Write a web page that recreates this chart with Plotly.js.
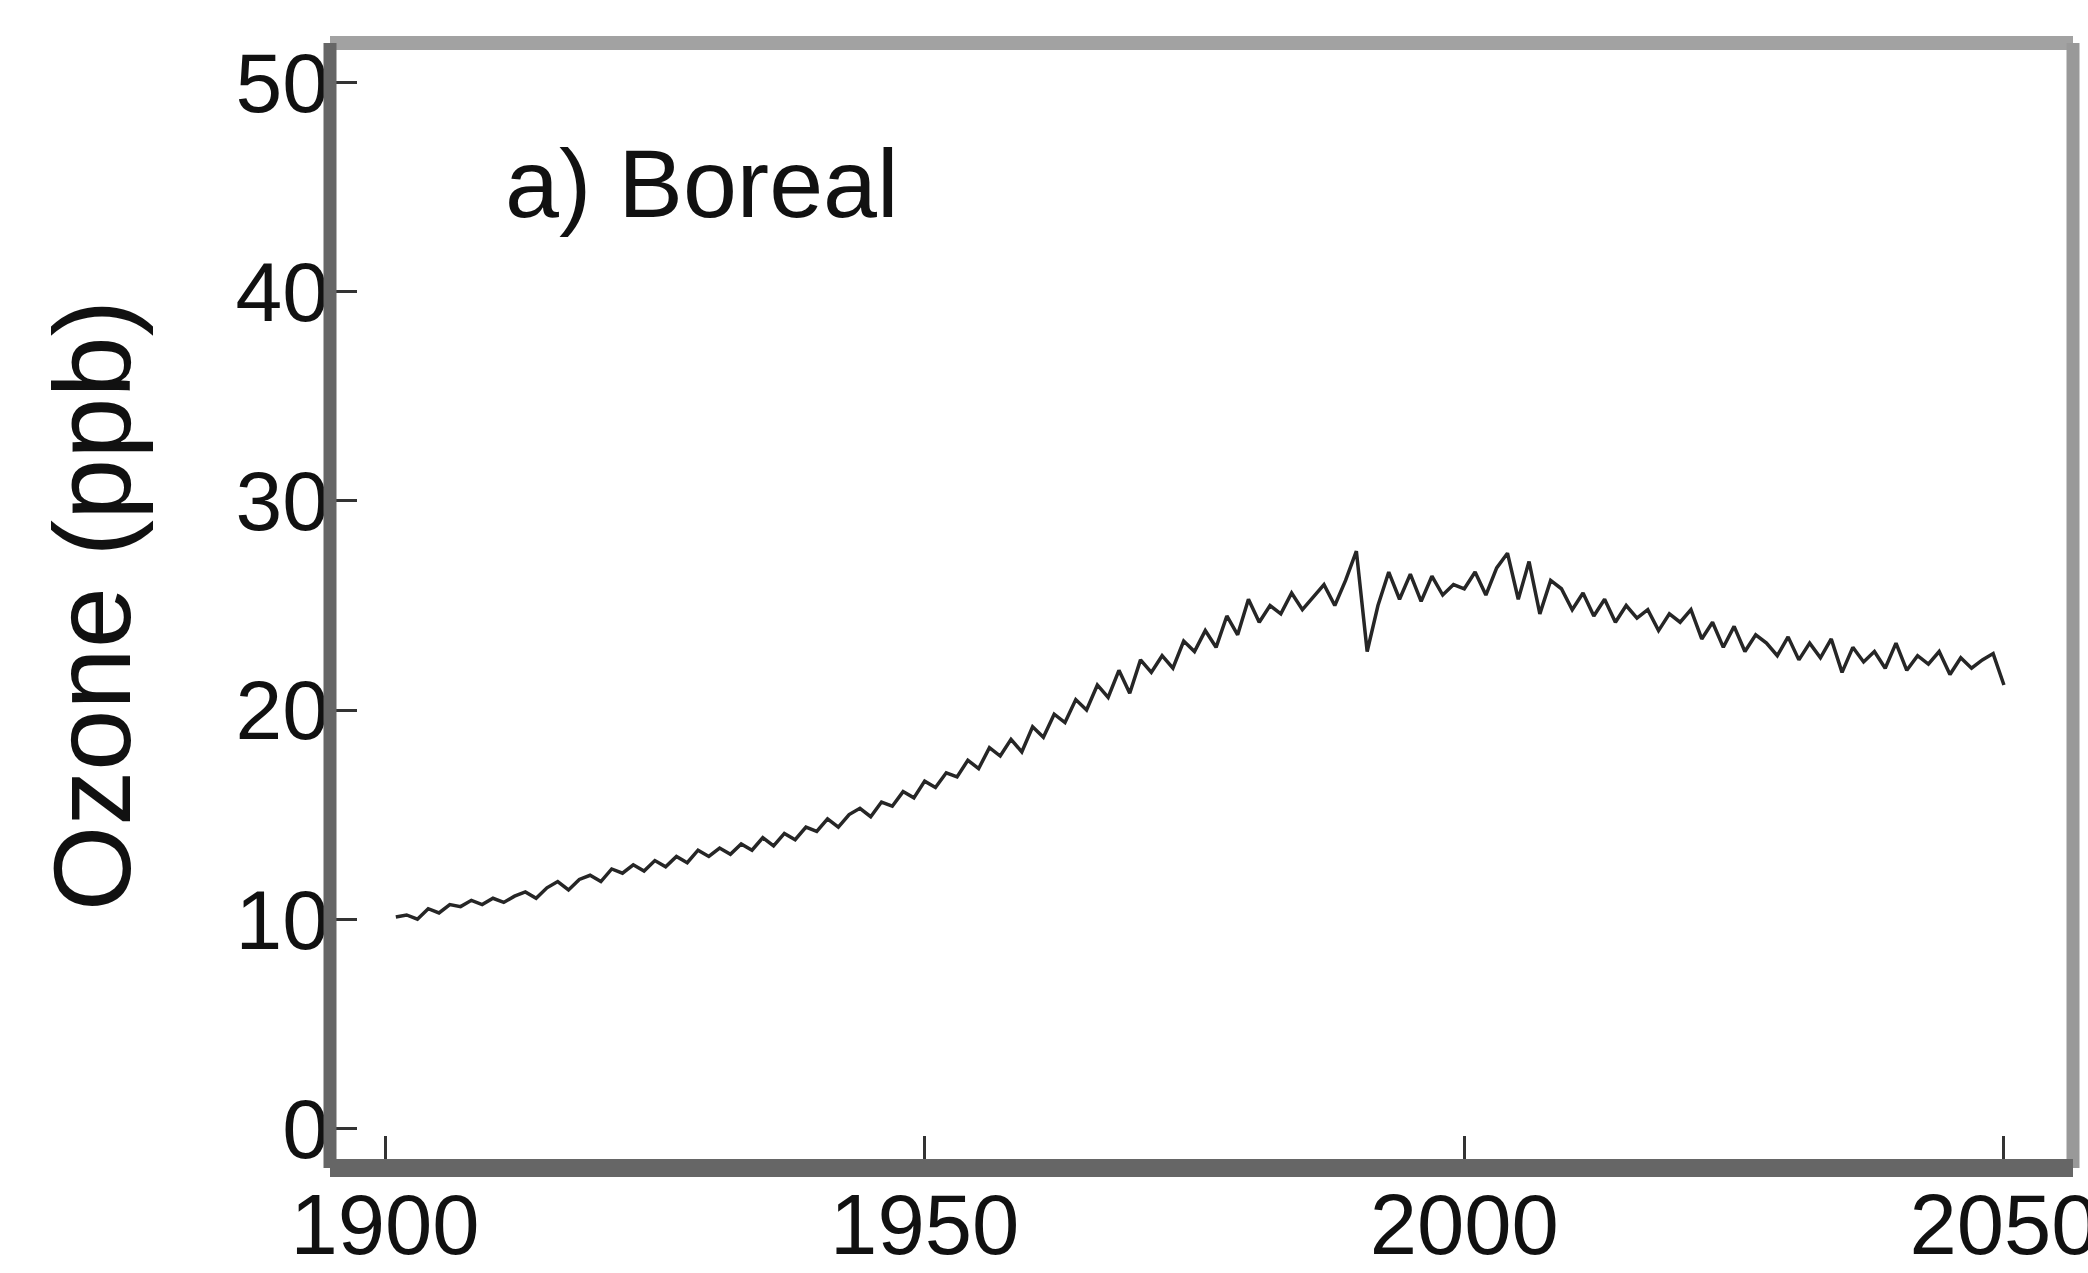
<!DOCTYPE html>
<html>
<head>
<meta charset="utf-8">
<script src="https://cdn.plot.ly/plotly-3.0.1.min.js"></script>
<style>html,body{margin:0;padding:0;background:#fff;}#chart{width:2088px;height:1273px;}</style>
</head>
<body>
<div id="chart"></div>
<script>
// Annual boreal ozone (ppb), 1901-2050
const startYear = 1901;
const ozone = [
  10.1, 10.2, 10.0, 10.5, 10.3, 10.7, 10.6, 10.9, 10.7, 11.0,
  10.8, 11.1, 11.3, 11.0, 11.5, 11.8, 11.4, 11.9, 12.1, 11.8,
  12.4, 12.2, 12.6, 12.3, 12.8, 12.5, 13.0, 12.7, 13.3, 13.0,
  13.4, 13.1, 13.6, 13.3, 13.9, 13.5, 14.1, 13.8, 14.4, 14.2,
  14.8, 14.4, 15.0, 15.3, 14.9, 15.6, 15.4, 16.1, 15.8, 16.6,
  16.3, 17.0, 16.8, 17.6, 17.2, 18.2, 17.8, 18.6, 18.0, 19.2,
  18.7, 19.8, 19.4, 20.5, 20.0, 21.2, 20.6, 21.9, 20.8, 22.4,
  21.8, 22.6, 22.0, 23.3, 22.8, 23.8, 23.0, 24.5, 23.6, 25.3,
  24.2, 25.0, 24.6, 25.6, 24.8, 25.4, 26.0, 25.0, 26.2, 27.6,
  22.8, 25.0, 26.6, 25.3, 26.5, 25.2, 26.4, 25.5, 26.0, 25.8,
  26.6, 25.5, 26.8, 27.5, 25.3, 27.1, 24.6, 26.2, 25.8, 24.8,
  25.6, 24.5, 25.3, 24.2, 25.0, 24.4, 24.8, 23.8, 24.6, 24.2,
  24.8, 23.4, 24.2, 23.0, 24.0, 22.8, 23.6, 23.2, 22.6, 23.5,
  22.4, 23.2, 22.5, 23.4, 21.8, 23.0, 22.3, 22.8, 22.0, 23.2,
  21.9, 22.6, 22.2, 22.8, 21.7, 22.5, 22.0, 22.4, 22.7, 21.2
];
const years = ozone.map((v, i) => startYear + i);
const xTicks = [1900, 1950, 2000, 2050];
const yTicks = [0, 10, 20, 30, 40, 50];
const panelLabel = "a) Boreal";
const yTitle = "Ozone (ppb)";

const font = "Liberation Sans, Arial, Helvetica, sans-serif";

const trace = {
  x: years, y: ozone, type: "scatter", mode: "lines",
  line: {color: "#262626", width: 3.5},
  hoverinfo: "skip"
};

const layout = {
  width: 2088, height: 1273,
  margin: {l: 330, r: 15, t: 43, b: 105, pad: 0},
  paper_bgcolor: "#ffffff", plot_bgcolor: "#ffffff",
  showlegend: false,
  font: {family: font, color: "#111"},
  xaxis: {
    range: [1894.9, 2056.4], tickvals: xTicks, ticktext: xTicks.map(String),
    ticks: "inside", ticklen: 32, tickwidth: 3, tickcolor: "#333",
    showgrid: false, zeroline: false, showline: false,
    tickfont: {size: 85, family: font, color: "#111"},
    ticklabelstandoff: 0, ticklabeloverflow: "allow"
  },
  yaxis: {
    range: [-1.9, 51.9], tickvals: yTicks, ticktext: yTicks.map(String),
    ticks: "inside", ticklen: 27, tickwidth: 3, tickcolor: "#333",
    showgrid: false, zeroline: false, showline: false,
    tickfont: {size: 84, family: font, color: "#111"},
    ticklabeloverflow: "allow",
    title: {text: yTitle, font: {size: 110, family: font, color: "#111"}, standoff: 68}
  },
  annotations: [{
    text: panelLabel, x: 1910.9, y: 45.2, xref: "x", yref: "y",
    xanchor: "left", yanchor: "middle", showarrow: false,
    font: {size: 97, family: font, color: "#111"}
  }],
  shapes: [
    {type: "line", xref: "paper", yref: "paper", x0: 0, x1: 1, y0: 1, y1: 1, line: {color: "#a2a2a2", width: 14}, layer: "above"},
    {type: "line", xref: "paper", yref: "paper", x0: 1, x1: 1, y0: 0, y1: 1, line: {color: "#999999", width: 13}, layer: "above"},
    {type: "line", xref: "paper", yref: "paper", x0: 0, x1: 1, y0: 0, y1: 0, line: {color: "#666666", width: 18}, layer: "above"},
    {type: "line", xref: "paper", yref: "paper", x0: 0, x1: 0, y0: 0, y1: 1, line: {color: "#666666", width: 13}, layer: "above"}
  ]
};

Plotly.newPlot("chart", [trace], layout, {staticPlot: true, displayModeBar: false});
</script>
</body>
</html>
